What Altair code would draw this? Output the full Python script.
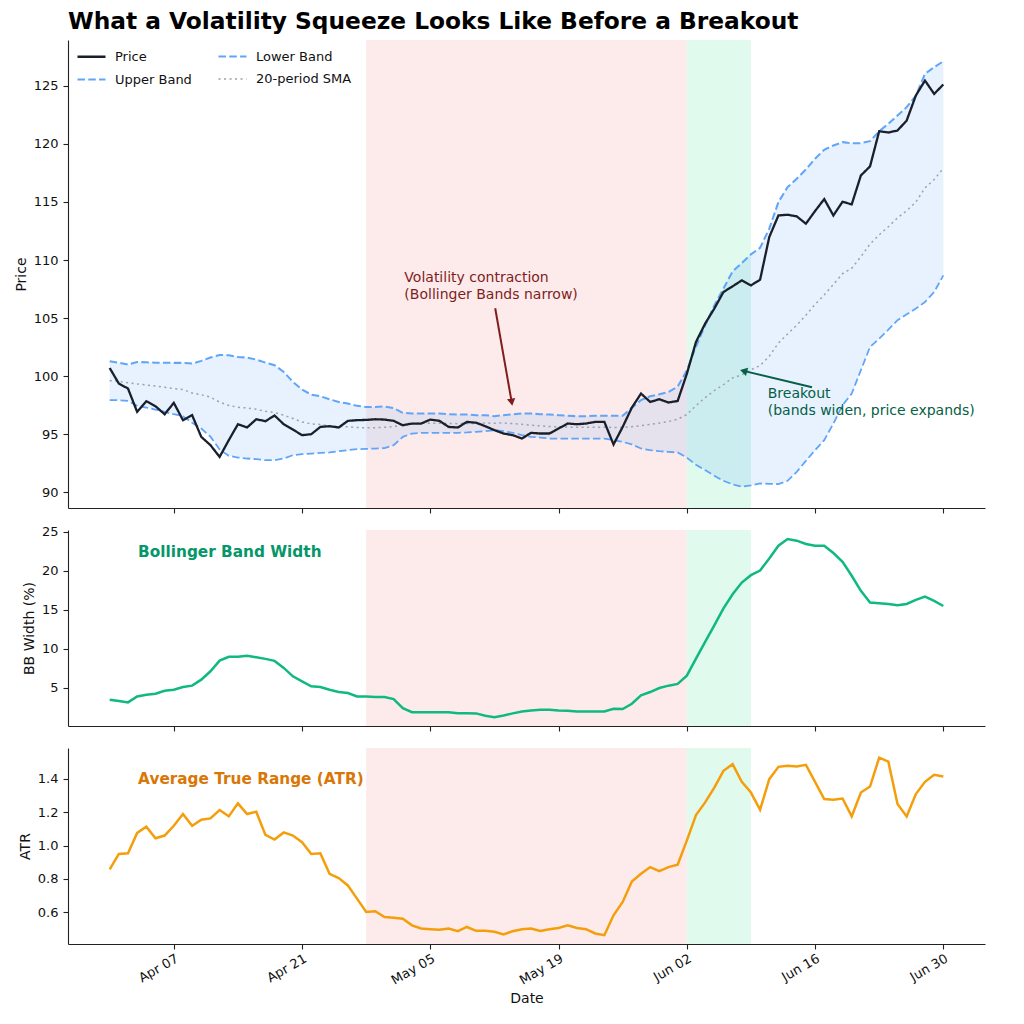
import altair as alt
import pandas as pd

# ---- daily series -------------------------------------------------------
dates = pd.date_range("2024-03-31", periods=92, freq="D")

price = [100.71, 99.37, 98.94, 96.93, 97.85, 97.42, 96.73, 97.71, 96.22, 96.65,
         94.78, 94.07, 93.06, 94.50, 95.87, 95.59, 96.30, 96.13, 96.62, 95.87,
         95.41, 94.93, 95.01, 95.64, 95.70, 95.59, 96.16, 96.22, 96.24, 96.30,
         96.27, 96.16, 95.78, 95.93, 95.93, 96.27, 96.16, 95.64, 95.59, 96.07,
         96.00, 95.70, 95.36, 95.07, 94.93, 94.64, 95.13, 95.07, 95.07, 95.50,
         95.93, 95.87, 95.93, 96.07, 96.07, 94.13, 95.64, 97.30, 98.51, 97.79,
         98.02, 97.74, 97.87, 100.20, 102.95, 104.53, 105.82, 107.25, 107.74, 108.25,
         107.82, 108.31, 111.98, 113.84, 113.90, 113.76, 113.13, 114.22, 115.25, 113.84,
         115.02, 114.79, 117.28, 118.06, 121.09, 120.98, 121.15, 122.01, 124.16, 125.45,
         124.30, 125.11]

upper = [101.29, 101.17, 101.00, 101.23, 101.20, 101.17, 101.17, 101.15, 101.15, 101.09,
         101.32, 101.61, 101.83, 101.81, 101.66, 101.61, 101.43, 101.17, 100.95, 100.37,
         99.51, 98.85, 98.42, 98.28, 98.02, 97.79, 97.65, 97.45, 97.36, 97.36,
         97.40, 97.25, 96.85, 96.79, 96.79, 96.79, 96.79, 96.73, 96.70, 96.70,
         96.65, 96.65, 96.56, 96.65, 96.73, 96.79, 96.79, 96.73, 96.70, 96.65,
         96.60, 96.56, 96.56, 96.60, 96.60, 96.60, 96.60, 97.30, 97.94, 98.28,
         98.45, 98.65, 99.10, 100.50, 102.55, 104.38, 106.10, 107.54, 109.03, 109.74,
         110.49, 111.06, 112.70, 114.99, 116.28, 117.00, 117.80, 118.72, 119.49, 119.86,
         120.15, 120.06, 120.06, 120.23, 121.09, 121.73, 122.44, 123.16, 124.16, 126.03,
         126.60, 127.11]

lower = [97.94, 97.94, 97.88, 97.45, 97.30, 97.13, 96.93, 96.73, 96.56, 96.00,
         95.50, 94.80, 93.70, 93.15, 93.00, 92.92, 92.86, 92.78, 92.78, 92.92,
         93.21, 93.29, 93.35, 93.41, 93.44, 93.55, 93.64, 93.72, 93.75, 93.78,
         93.81, 94.07, 94.78, 95.07, 95.13, 95.13, 95.13, 95.13, 95.13, 95.16,
         95.21, 95.28, 95.36, 95.28, 95.13, 94.93, 94.78, 94.72, 94.64, 94.64,
         94.64, 94.64, 94.64, 94.64, 94.64, 94.50, 94.35, 94.13, 93.78, 93.64,
         93.55, 93.49, 93.44, 93.00, 92.38, 91.92, 91.43, 91.00, 90.69, 90.49,
         90.60, 90.77, 90.74, 90.72, 91.00, 91.77, 92.72, 93.64, 94.50, 95.93,
         97.51, 98.51, 100.52, 102.52, 103.24, 104.01, 104.82, 105.33, 105.82, 106.39,
         107.25, 108.68]

sma = [99.62, 99.56, 99.44, 99.34, 99.25, 99.15, 99.05, 98.94, 98.86, 98.55,
       98.41, 98.20, 97.77, 97.48, 97.33, 97.27, 97.15, 96.98, 96.87, 96.65,
       96.36, 96.07, 95.89, 95.85, 95.73, 95.67, 95.65, 95.59, 95.56, 95.57,
       95.61, 95.66, 95.82, 95.93, 95.96, 95.96, 95.96, 95.93, 95.92, 95.93,
       95.93, 95.97, 95.96, 95.97, 95.93, 95.86, 95.79, 95.73, 95.67, 95.65,
       95.62, 95.60, 95.60, 95.62, 95.62, 95.58, 95.60, 95.66, 95.75, 95.85,
       95.97, 96.10, 96.30, 96.70, 97.47, 98.15, 98.77, 99.27, 99.86, 100.12,
       100.55, 100.92, 101.72, 102.86, 103.64, 104.39, 105.26, 106.18, 107.00, 107.90,
       108.83, 109.29, 110.29, 111.38, 112.17, 112.87, 113.63, 114.25, 114.99, 116.21,
       116.93, 117.90]

bb_width = [3.45, 3.30, 3.11, 3.88, 4.10, 4.23, 4.61, 4.74, 5.09, 5.26,
            6.03, 7.11, 8.48, 8.96, 8.96, 9.09, 8.91, 8.70, 8.44, 7.54,
            6.46, 5.82, 5.17, 5.09, 4.74, 4.44, 4.31, 3.88, 3.88, 3.80,
            3.80, 3.54, 2.38, 1.86, 1.86, 1.86, 1.83, 1.83, 1.73, 1.73,
            1.70, 1.39, 1.22, 1.44, 1.70, 1.94, 2.07, 2.16, 2.16, 2.07,
            2.03, 1.94, 1.94, 1.94, 1.94, 2.29, 2.25, 2.94, 4.01, 4.44,
            4.96, 5.26, 5.48, 6.55, 8.74, 10.89, 13.00, 15.19, 17.00, 18.50,
            19.45, 20.05, 21.60, 23.23, 24.10, 23.88, 23.45, 23.23, 23.23, 22.29,
            21.17, 19.37, 17.43, 15.93, 15.84, 15.75, 15.58, 15.75, 16.27, 16.70,
            16.14, 15.49]

atr = [0.857, 0.950, 0.954, 1.076, 1.113, 1.044, 1.060, 1.119, 1.189, 1.119,
       1.155, 1.163, 1.213, 1.175, 1.253, 1.189, 1.203, 1.064, 1.036, 1.079,
       1.060, 1.020, 0.950, 0.954, 0.831, 0.805, 0.761, 0.682, 0.602, 0.606,
       0.572, 0.568, 0.562, 0.522, 0.503, 0.499, 0.495, 0.503, 0.487, 0.512,
       0.489, 0.489, 0.483, 0.467, 0.487, 0.499, 0.503, 0.488, 0.499, 0.506,
       0.522, 0.506, 0.499, 0.473, 0.463, 0.582, 0.662, 0.785, 0.831, 0.871,
       0.847, 0.871, 0.885, 1.030, 1.183, 1.259, 1.348, 1.448, 1.488, 1.382,
       1.318, 1.215, 1.398, 1.472, 1.478, 1.474, 1.484, 1.382, 1.279, 1.275,
       1.282, 1.175, 1.318, 1.354, 1.527, 1.503, 1.249, 1.175, 1.309, 1.382,
       1.424, 1.414]

# ---- phases -------------------------------------------------------------
phase_start = ["2024-04-28", "2024-06-02"]
phase_end = ["2024-06-02", "2024-06-09"]
phase_colors = ["#fdebeb", "#e0faee"]

# ---- styling ------------------------------------------------------------
FONT = "DejaVu Sans"
PLOT_W = 917
# legend entries fill column by column
series_order = ["Price", "Upper Band", "Lower Band", "20-period SMA"]
series_colors = ["#1a1f2c", "#60a5fa", "#60a5fa", "#9ca3af"]
series_dash = [[1, 0], [7.5, 3.3], [7.5, 3.3], [2.1, 3.4]]
series_width = [2.3, 1.5, 1.5, 1.6]

x_domain = [alt.DateTime(year=2024, month=3, date=26, hours=10, minutes=48),
            alt.DateTime(year=2024, month=7, date=4, hours=13, minutes=12)]
x_ticks = [alt.DateTime(year=2024, month=m, date=d)
           for m, d in [(4, 7), (4, 21), (5, 5), (5, 19), (6, 2), (6, 16), (6, 30)]]


def x_enc(field, show_labels=False):
    if show_labels:
        axis = alt.Axis(values=x_ticks, format="%b %d", title="Date", labelAngle=330,
                        labelAlign="right", labelBaseline="top", labelPadding=3,
                        titlePadding=4)
    else:
        axis = alt.Axis(values=x_ticks, labels=False, title=None)
    return alt.X(field, type="temporal", scale=alt.Scale(domain=x_domain), axis=axis)


def y_enc(field, domain, ticks, title, fmt=None):
    axis_kw = dict(values=ticks, title=title, titlePadding=5)
    if fmt:
        axis_kw["format"] = fmt
    return alt.Y(field, type="quantitative",
                 scale=alt.Scale(domain=domain, nice=False, zero=False),
                 axis=alt.Axis(**axis_kw))


def phase_rects(show_labels=False):
    layers = []
    for s, e, c in zip(phase_start, phase_end, phase_colors):
        span = pd.DataFrame({"start": pd.to_datetime([s]), "end": pd.to_datetime([e])})
        layers.append(alt.Chart(span).mark_rect(color=c).encode(
            x=x_enc("start", show_labels), x2="end:T"))
    return layers


# ---- price panel --------------------------------------------------------
price_dom = [88.66, 128.94]
price_ticks = [90, 95, 100, 105, 110, 115, 120, 125]

bands = pd.DataFrame({"date": dates, "upper": upper, "lower": lower})
lines = pd.concat([
    pd.DataFrame({"date": dates, "value": sma, "series": "20-period SMA"}),
    pd.DataFrame({"date": dates, "value": lower, "series": "Lower Band"}),
    pd.DataFrame({"date": dates, "value": upper, "series": "Upper Band"}),
    pd.DataFrame({"date": dates, "value": price, "series": "Price"}),
])

band_fill = alt.Chart(bands).mark_area(color="#60a5fa", opacity=0.15).encode(
    x=x_enc("date"),
    y=y_enc("lower", price_dom, price_ticks, "Price"),
    y2="upper:Q",
)

legend = alt.Legend(title=None, orient="none", legendX=8, legendY=1, columns=2,
                    symbolType="stroke", symbolSize=784, symbolStrokeWidth=2,
                    labelFont=FONT, labelFontSize=13, labelColor="#111",
                    labelOffset=8, columnPadding=22, rowPadding=-16, padding=0)

price_lines = alt.Chart(lines).mark_line().encode(
    x=x_enc("date"),
    y=y_enc("value", price_dom, price_ticks, "Price"),
    color=alt.Color("series:N", sort=series_order,
                    scale=alt.Scale(domain=series_order, range=series_colors), legend=legend),
    strokeDash=alt.StrokeDash("series:N", sort=series_order,
                              scale=alt.Scale(domain=series_order, range=series_dash),
                              legend=legend),
    strokeWidth=alt.StrokeWidth("series:N",
                                scale=alt.Scale(domain=series_order, range=series_width),
                                legend=None),
)

# annotations: text anchor, arrow tail and arrow tip
notes = pd.DataFrame({
    "name": ["squeeze", "breakout"],
    "tx": pd.to_datetime(["2024-05-02T04:00", "2024-06-10T20:00"]),
    "ty": [109.03, 99.05],
    "tail_x": pd.to_datetime(["2024-05-12T02:00", "2024-06-15T16:00"]),
    "tail_y": [105.85, 99.05],
    "tip_x": pd.to_datetime(["2024-05-14T00:00", "2024-06-07T11:00"]),
    "tip_y": [97.25, 100.60],
    "color": ["#7f1d1d", "#065f46"],
    "angle": [170.4, 285.3],
})
# arrow heads sit just behind each tip
back = [0.06, 0.09]
notes["head_x"] = [t + (s - t) * f for t, s, f in zip(notes["tip_x"], notes["tail_x"], back)]
notes["head_y"] = [t + (s - t) * f for t, s, f in zip(notes["tip_y"], notes["tail_y"], back)]

note_layers = []
texts = {"squeeze": ["Volatility contraction", "(Bollinger Bands narrow)"],
         "breakout": ["Breakout", "(bands widen, price expands)"]}
for _, row in notes.iterrows():
    one = notes[notes["name"] == row["name"]]
    note_layers.append(
        alt.Chart(one).mark_text(text=texts[row["name"]], align="left", baseline="top",
                                 font=FONT, fontSize=14, lineHeight=17, color=row["color"]).encode(
            x=x_enc("tx"), y=y_enc("ty", price_dom, price_ticks, "Price"))
    )
    note_layers.append(
        alt.Chart(one).mark_rule(color=row["color"], strokeWidth=2).encode(
            x=x_enc("tail_x"), y=y_enc("tail_y", price_dom, price_ticks, "Price"),
            x2="head_x:T", y2="head_y:Q")
    )
    note_layers.append(
        alt.Chart(one).mark_point(shape="triangle-up", filled=True, opacity=1, size=70,
                                  color=row["color"], angle=row["angle"]).encode(
            x=x_enc("head_x"), y=y_enc("head_y", price_dom, price_ticks, "Price"))
    )

price_panel = alt.layer(*phase_rects(), band_fill, price_lines, *note_layers).properties(
    width=PLOT_W, height=468)

# ---- Bollinger band width panel -----------------------------------------
bbw_dom = [0.08, 25.25]
bbw_ticks = [5, 10, 15, 20, 25]
bbw_df = pd.DataFrame({"date": dates, "bbw": bb_width})
bbw_line = alt.Chart(bbw_df).mark_line(color="#10b981", strokeWidth=2.5).encode(
    x=x_enc("date"), y=y_enc("bbw", bbw_dom, bbw_ticks, "BB Width (%)"))
bbw_label = alt.Chart(pd.DataFrame({"x": pd.to_datetime(["2024-04-03T02:30"]), "y": [22.42]})).mark_text(
    text="Bollinger Band Width", align="left", baseline="middle", font=FONT, fontSize=15.3,
    fontWeight="bold", color="#059669").encode(
    x=x_enc("x"), y=y_enc("y", bbw_dom, bbw_ticks, "BB Width (%)"))
bbw_panel = alt.layer(*phase_rects(), bbw_line, bbw_label).properties(width=PLOT_W, height=196)

# ---- ATR panel ------------------------------------------------------------
atr_dom = [0.41, 1.585]
atr_ticks = [0.6, 0.8, 1.0, 1.2, 1.4]
atr_df = pd.DataFrame({"date": dates, "atr": atr})
atr_line = alt.Chart(atr_df).mark_line(color="#f59e0b", strokeWidth=2.5).encode(
    x=x_enc("date", True), y=y_enc("atr", atr_dom, atr_ticks, "ATR", ".1f"))
atr_label = alt.Chart(pd.DataFrame({"x": pd.to_datetime(["2024-04-03T02:30"]), "y": [1.398]})).mark_text(
    text="Average True Range (ATR)", align="left", baseline="middle", font=FONT, fontSize=15.3,
    fontWeight="bold", color="#d97706").encode(
    x=x_enc("x", True), y=y_enc("y", atr_dom, atr_ticks, "ATR", ".1f"))
atr_panel = alt.layer(*phase_rects(True), atr_line, atr_label).properties(width=PLOT_W, height=196)

chart = alt.vconcat(price_panel, bbw_panel, atr_panel, spacing=22, bounds="flush").resolve_scale(
    y="independent", color="independent", strokeDash="independent", strokeWidth="independent",
).properties(
    title=alt.TitleParams("What a Volatility Squeeze Looks Like Before a Breakout",
                          anchor="start", frame="group", font=FONT, fontSize=23.3,
                          fontWeight="bold", color="#000", offset=6),
    padding={"left": 14, "top": 9, "right": 10, "bottom": 5},
).configure_view(stroke=None).configure_axis(
    grid=False, labelFont=FONT, titleFont=FONT, labelFontSize=13, titleFontSize=14,
    titleFontWeight="normal", labelColor="#111", titleColor="#111",
    tickSize=5, tickWidth=1.1, domainWidth=1.1, domainColor="#222", tickColor="#222",
    labelPadding=5,
)

chart.save("out.html", embed_options={"renderer": "svg", "actions": False})
